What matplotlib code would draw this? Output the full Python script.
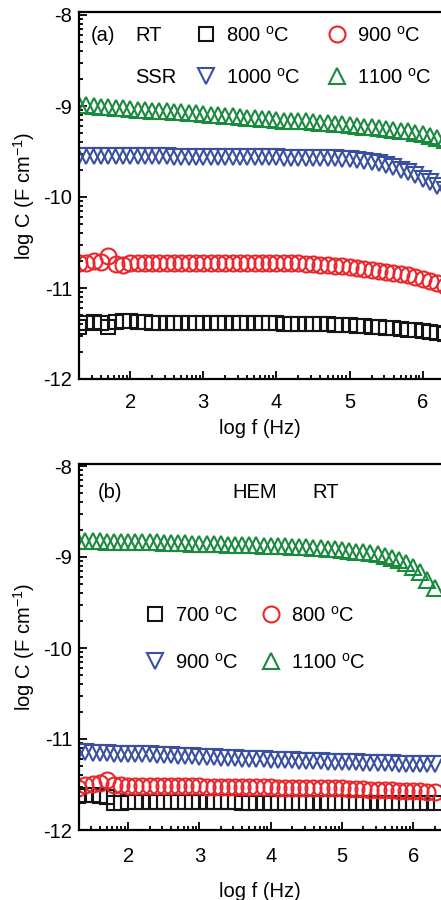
import numpy as np
import matplotlib
matplotlib.use("Agg")
import matplotlib.pyplot as plt

plt.rcParams['font.family'] = ['Liberation Sans', 'DejaVu Sans']
plt.rcParams['mathtext.fontset'] = 'custom'
plt.rcParams['mathtext.rm'] = 'Liberation Sans'
plt.rcParams['mathtext.it'] = 'Liberation Sans:italic'
plt.rcParams['axes.unicode_minus'] = False

# ---------------- data ----------------
log_f = [1.3, 1.4, 1.5, 1.6, 1.7, 1.8, 1.9, 2.0,
         2.1, 2.2, 2.3, 2.4, 2.5, 2.6, 2.7, 2.8, 2.9, 3.0,
         3.1, 3.2, 3.3, 3.4, 3.5, 3.6, 3.7, 3.8, 3.9, 4.0,
         4.1, 4.2, 4.3, 4.4, 4.5, 4.6, 4.7, 4.8, 4.9, 5.0,
         5.1, 5.2, 5.3, 5.4, 5.5, 5.6, 5.7, 5.8, 5.9, 6.0,
         6.1, 6.2, 6.3]

# panel (a) SSR
a_800 = [-11.43, -11.38, -11.37, -11.38, -11.43, -11.37, -11.36, -11.36,
         -11.37, -11.37, -11.38, -11.38, -11.38, -11.38, -11.38, -11.38, -11.38, -11.38,
         -11.39, -11.39, -11.39, -11.39, -11.39, -11.39, -11.39, -11.39, -11.39, -11.39,
         -11.40, -11.40, -11.40, -11.40, -11.40, -11.40, -11.40, -11.41, -11.41, -11.41,
         -11.42, -11.42, -11.43, -11.43, -11.44, -11.44, -11.45, -11.46, -11.46, -11.47,
         -11.48, -11.49, -11.50]
a_900 = [-10.72, -10.72, -10.70, -10.71, -10.65, -10.74, -10.75, -10.73,
         -10.72, -10.72, -10.72, -10.72, -10.72, -10.72, -10.72, -10.72, -10.72, -10.72,
         -10.72, -10.72, -10.72, -10.72, -10.72, -10.73, -10.73, -10.73, -10.73, -10.73,
         -10.73, -10.73, -10.73, -10.74, -10.74, -10.75, -10.75, -10.76, -10.76, -10.77,
         -10.78, -10.79, -10.80, -10.81, -10.82, -10.83, -10.85, -10.86, -10.88, -10.90,
         -10.92, -10.95, -10.98]
a_1000 = [-9.55, -9.55, -9.55, -9.55, -9.55, -9.55, -9.55, -9.55,
          -9.55, -9.55, -9.55, -9.55, -9.55, -9.56, -9.56, -9.56, -9.56, -9.56,
          -9.56, -9.56, -9.56, -9.56, -9.56, -9.56, -9.56, -9.56, -9.56, -9.56,
          -9.57, -9.57, -9.57, -9.57, -9.57, -9.57, -9.57, -9.57, -9.58, -9.58,
          -9.59, -9.60, -9.61, -9.63, -9.65, -9.67, -9.70, -9.73, -9.76, -9.80,
          -9.84, -9.88, -9.92]
a_1100 = [-8.99, -8.99, -9.00, -9.01, -9.01, -9.02, -9.02, -9.03,
          -9.04, -9.04, -9.05, -9.05, -9.06, -9.07, -9.07, -9.08, -9.08, -9.09,
          -9.10, -9.10, -9.11, -9.11, -9.12, -9.13, -9.13, -9.14, -9.14, -9.15,
          -9.16, -9.16, -9.17, -9.17, -9.18, -9.19, -9.19, -9.20, -9.20, -9.21,
          -9.22, -9.23, -9.23, -9.24, -9.25, -9.26, -9.27, -9.28, -9.30, -9.31,
          -9.33, -9.35, -9.37]

# panel (b) HEM
b_700 = [-11.63, -11.62, -11.62, -11.63, -11.64, -11.70, -11.70, -11.69,
         -11.69, -11.69, -11.69, -11.69, -11.69, -11.69, -11.69, -11.69, -11.69, -11.69,
         -11.69, -11.69, -11.69, -11.69, -11.69, -11.70, -11.70, -11.70, -11.70, -11.70,
         -11.70, -11.70, -11.70, -11.70, -11.70, -11.70, -11.70, -11.70, -11.70, -11.70,
         -11.70, -11.70, -11.70, -11.70, -11.70, -11.70, -11.70, -11.70, -11.70, -11.70,
         -11.70, -11.70, -11.70]
b_800 = [-11.54, -11.50, -11.49, -11.48, -11.45, -11.50, -11.51, -11.52,
         -11.52, -11.52, -11.52, -11.52, -11.52, -11.52, -11.52, -11.52, -11.52, -11.52,
         -11.53, -11.53, -11.53, -11.53, -11.53, -11.53, -11.53, -11.53, -11.53, -11.53,
         -11.54, -11.54, -11.54, -11.54, -11.54, -11.54, -11.54, -11.54, -11.54, -11.54,
         -11.55, -11.55, -11.55, -11.56, -11.56, -11.56, -11.56, -11.57, -11.57, -11.57,
         -11.57, -11.58, -11.58]
b_900 = [-11.14, -11.14, -11.15, -11.15, -11.15, -11.16, -11.16, -11.16,
         -11.17, -11.17, -11.17, -11.18, -11.18, -11.18, -11.19, -11.19, -11.19, -11.20,
         -11.20, -11.20, -11.21, -11.21, -11.21, -11.22, -11.22, -11.22, -11.22, -11.23,
         -11.23, -11.23, -11.23, -11.24, -11.24, -11.24, -11.24, -11.25, -11.25, -11.25,
         -11.25, -11.25, -11.26, -11.26, -11.26, -11.26, -11.26, -11.27, -11.27, -11.27,
         -11.27, -11.27, -11.28]
b_1100 = [-8.82, -8.82, -8.82, -8.82, -8.83, -8.83, -8.83, -8.83,
          -8.84, -8.84, -8.84, -8.84, -8.85, -8.85, -8.85, -8.85, -8.86, -8.86,
          -8.86, -8.86, -8.86, -8.87, -8.87, -8.87, -8.87, -8.87, -8.88, -8.88,
          -8.88, -8.88, -8.89, -8.89, -8.89, -8.90, -8.90, -8.91, -8.91, -8.92,
          -8.93, -8.94, -8.95, -8.96, -8.97, -8.99, -9.01, -9.03, -9.07, -9.11,
          -9.17, -9.25, -9.34]

x_ticks = [2, 3, 4, 5, 6]
y_ticks = [-12, -11, -10, -9, -8]

BLACK = '#151515'
RED = '#e8262b'
BLUE = '#3a4ea2'
GREEN = '#1a8a3e'
FS = 14.5
MEW = 1.5
MS_SQ, MS_CI, MS_TR = 10.0, 11.5, 11.5

fig = plt.figure(figsize=(4.41, 9.0), dpi=100)
W, H = 441.0, 900.0
ax1 = fig.add_axes([79 / W, 1 - 379 / H, 362 / W, 367 / H])
ax2 = fig.add_axes([79 / W, 1 - 830 / H, 362 / W, 366 / H])


def style_axes(ax, xlim, ylim, xlabpad, xtickpad):
    ax.set_xticks(x_ticks)
    ax.set_yticks(y_ticks)
    ax.set_xticklabels([str(t) for t in x_ticks])
    ax.set_yticklabels([str(t) for t in y_ticks])
    xminor = [d + np.log10(k) for d in range(1, 7) for k in range(2, 10)]
    yminor = [d + np.log10(k) for d in range(-12, -8) for k in range(2, 10)]
    ax.set_xticks(xminor, minor=True)
    ax.set_yticks(yminor, minor=True)
    ax.set_xlim(*xlim)
    ax.set_ylim(*ylim)
    ax.tick_params(which='both', direction='in', top=False, right=False,
                   labelsize=FS, width=1.3, color='black')
    ax.tick_params(which='major', length=6)
    ax.tick_params(which='minor', length=3.2)
    ax.tick_params(axis='x', which='major', pad=xtickpad)
    ax.tick_params(axis='y', which='major', pad=5)
    for s in ['left', 'bottom', 'top']:
        ax.spines[s].set_linewidth(1.6)
    ax.spines['right'].set_visible(False)
    ax.set_xlabel('log f (Hz)', fontsize=FS, labelpad=xlabpad)
    ax.set_ylabel('log C (F cm$^{\\mathregular{-1}}$)', fontsize=FS, labelpad=4.5)


def plot_series(ax, y, marker, color, ms, label):
    return ax.plot(log_f, y, linestyle='none', marker=marker, ms=ms,
                   mfc='none', mec=color, mew=MEW, label=label)[0]


# ---- panel (a)
h800 = plot_series(ax1, a_800, 's', BLACK, MS_SQ, '800 $^{\\mathregular{o}}$C')
h900 = plot_series(ax1, a_900, 'o', RED, MS_CI, '900 $^{\\mathregular{o}}$C')
h1000 = plot_series(ax1, a_1000, 'v', BLUE, MS_TR, '1000 $^{\\mathregular{o}}$C')
h1100 = plot_series(ax1, a_1100, '^', GREEN, MS_TR, '1100 $^{\\mathregular{o}}$C')
style_axes(ax1, (1.30, 6.25), (-12, -12 + 367 / 91), 5, 10)
ax1.legend(handles=[h800, h1000, h900, h1100], ncol=2, loc='upper left',
           bbox_to_anchor=(0.323, 0.964), frameon=False, fontsize=FS,
           handlelength=1.0, handletextpad=0.5, columnspacing=1.3,
           labelspacing=1.1, borderpad=0, borderaxespad=0, numpoints=1)
ax1.text(0.033, 0.935, '(a)', transform=ax1.transAxes, fontsize=FS, va='center', ha='left')
ax1.text(0.155, 0.935, 'RT', transform=ax1.transAxes, fontsize=FS, va='center', ha='left')
ax1.text(0.155, 0.822, 'SSR', transform=ax1.transAxes, fontsize=FS, va='center', ha='left')

# ---- panel (b)
g700 = plot_series(ax2, b_700, 's', BLACK, MS_SQ, '700 $^{\\mathregular{o}}$C')
g800 = plot_series(ax2, b_800, 'o', RED, MS_CI, '800 $^{\\mathregular{o}}$C')
g900 = plot_series(ax2, b_900, 'v', BLUE, MS_TR, '900 $^{\\mathregular{o}}$C')
g1100 = plot_series(ax2, b_1100, '^', GREEN, MS_TR, '1100 $^{\\mathregular{o}}$C')
style_axes(ax2, (1.31, 6.39), (-12, -12 + 366 / 91), 12, 12)
ax2.legend(handles=[g700, g900, g800, g1100], ncol=2, loc='upper left',
           bbox_to_anchor=(0.182, 0.614), frameon=False, fontsize=FS,
           handlelength=1.0, handletextpad=0.5, columnspacing=1.1,
           labelspacing=1.35, borderpad=0, borderaxespad=0, numpoints=1)
ax2.text(0.052, 0.921, '(b)', transform=ax2.transAxes, fontsize=FS, va='center', ha='left')
ax2.text(0.423, 0.921, 'HEM', transform=ax2.transAxes, fontsize=FS, va='center', ha='left')
ax2.text(0.646, 0.921, 'RT', transform=ax2.transAxes, fontsize=FS, va='center', ha='left')

fig.savefig('out.png', dpi=100)
